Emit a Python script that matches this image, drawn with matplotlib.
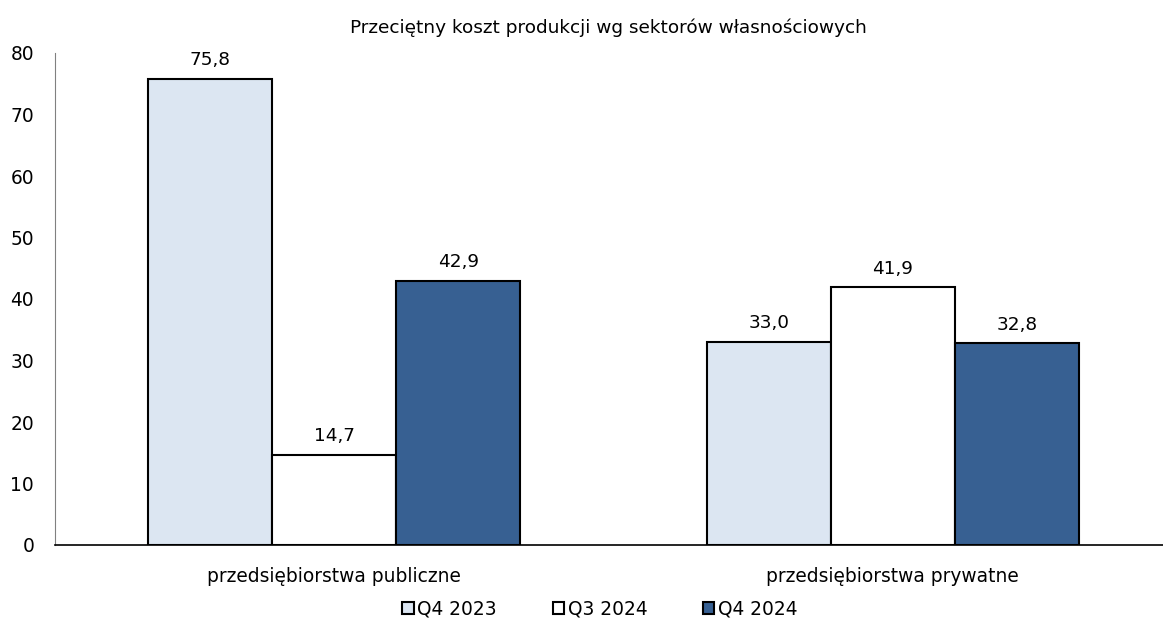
import matplotlib
matplotlib.use("Agg")
import matplotlib.pyplot as plt
import numpy as np

categories = ["przedsiębiorstwa publiczne", "przedsiębiorstwa prywatne"]
series_names = ["Q4 2023", "Q3 2024", "Q4 2024"]
q4_2023 = [75.8, 33.0]
q3_2024 = [14.7, 41.9]
q4_2024 = [42.9, 32.8]
yticks = [0, 10, 20, 30, 40, 50, 60, 70, 80]
title = "Przeciętny koszt produkcji wg sektorów własnościowych"

colors = ["#DCE6F2", "#FFFFFF", "#376092"]
plt.rcParams['font.family'] = ['DejaVu Sans']

fig = plt.figure(figsize=(11.63, 6.28), dpi=100)
ax = fig.add_axes([55/1163, 1-545/628, 1117/1163, (545-53)/628])

x = np.arange(len(categories))
w = 0.222
values = [q4_2023, q3_2024, q4_2024]
for i, (vals, c, name) in enumerate(zip(values, colors, series_names)):
    pos = x + (i - 1) * w
    ax.bar(pos, vals, width=w, color=c, edgecolor="black", linewidth=1.5, label=name)
    for p, v in zip(pos, vals):
        ax.annotate(f"{v:.1f}".replace(".", ","), (p, v), xytext=(0, 7), textcoords="offset points",
                    ha="center", va="bottom", fontsize=13.3)

ax.set_xlim(-0.5, 1.5)
ax.set_ylim(0, 80)
ax.set_yticks(yticks)
ax.set_xticks(x)
ax.set_xticklabels(categories, fontsize=13.4)
ax.tick_params(axis="y", length=0, labelsize=13.4, pad=15)
ax.tick_params(axis="x", length=0, pad=16)
for s in ["top", "right"]:
    ax.spines[s].set_visible(False)
ax.spines["left"].set_color("#808080")
ax.spines["bottom"].set_color("black")
ax.spines["bottom"].set_linewidth(1.2)

fig.text(608/1163, 1-28/628, title, ha="center", va="center", fontsize=13.3)

leg = ax.legend(loc="center", bbox_to_anchor=(600/1163, 19/628), bbox_transform=fig.transFigure,
                ncol=3, frameon=False, fontsize=13.4, handlelength=0.6, handleheight=0.6,
                handletextpad=0.2, columnspacing=3.0)

fig.savefig("out.png", dpi=100)
